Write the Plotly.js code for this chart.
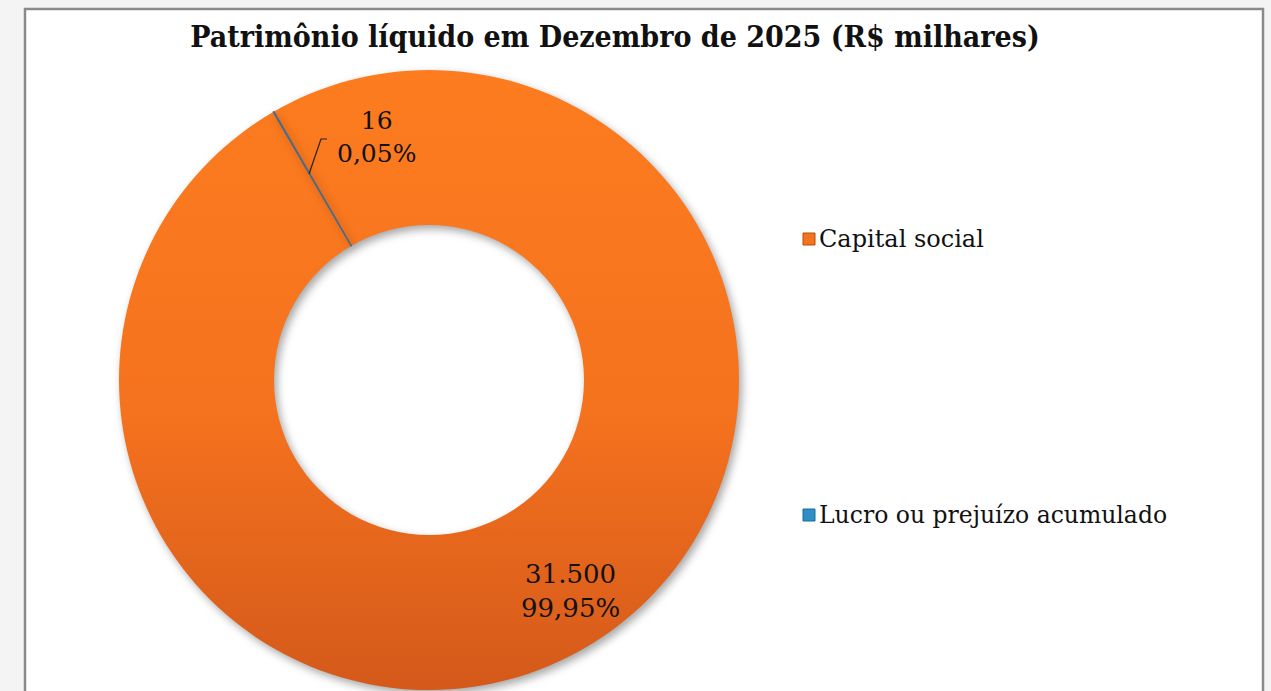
<!DOCTYPE html>
<html>
<head>
<meta charset="utf-8">
<script src="https://cdn.plot.ly/plotly-3.0.1.min.js"></script>
<style>
  html, body { margin: 0; padding: 0; background: #f4f4f4; }
  #chart { width: 1271px; height: 691px; }
  .pielayer .slice path { filter: drop-shadow(3px 4px 4px rgba(0,0,0,0.35)); }
</style>
</head>
<body>
<div id="chart"></div>
<script>
// ---- data ----
const labels = ['Capital social', 'Lucro ou prejuízo acumulado'];
const values = [31500, 16];
const sliceColors = ['#F5721E', '#2E8FC7'];
const titleText = 'Patrimônio líquido em Dezembro de 2025 (R$ milhares)';

// ---- formatting (pt-BR) ----
const total = values.reduce((a, b) => a + b, 0);
function fmtNum(v) { return String(v).replace(/\B(?=(\d{3})+(?!\d))/g, '.'); }
function fmtPct(v) { return (v / total * 100).toFixed(2).replace('.', ',') + '%'; }
const sliceText = values.map(v => fmtNum(v) + '<br>' + fmtPct(v));

const W = 1271, H = 691;
const px = x => x / W;
const py = y => 1 - y / H;
const serif = 'DejaVu Serif, Liberation Serif, serif';

const trace = {
  type: 'pie',
  labels: labels,
  values: values,
  textinfo: 'none',
  hole: 0.5,
  sort: false,
  direction: 'clockwise',
  rotation: -30,
  marker: { colors: sliceColors, line: { color: ['rgba(0,0,0,0)', '#4A6A86'], width: [0, 1.2] } },
  domain: { x: [px(118), px(740)], y: [py(690), py(70)] },
  showlegend: false,
  hoverinfo: 'label+value+percent'
};

const shapes = [
  { type: 'rect', xref: 'paper', yref: 'paper', x0: px(25), x1: px(1263), y0: -0.02, y1: py(9),
    fillcolor: '#ffffff', line: { color: '#8a8a8a', width: 2.5 }, layer: 'below' },
  { type: 'path', xref: 'paper', yref: 'paper',
    path: 'M ' + px(309) + ',' + py(174) + ' L ' + px(321) + ',' + py(139) + ' L ' + px(327) + ',' + py(139),
    line: { color: '#222', width: 1.2 } },
  { type: 'rect', xref: 'paper', yref: 'paper', x0: px(803), x1: px(815), y0: py(245), y1: py(233),
    fillcolor: sliceColors[0], line: { color: '#b34e10', width: 1 } },
  { type: 'rect', xref: 'paper', yref: 'paper', x0: px(803), x1: px(815), y0: py(521), y1: py(509),
    fillcolor: sliceColors[1], line: { color: '#1f6a96', width: 1 } }
];

const annotations = [
  { xref: 'paper', yref: 'paper', x: px(570), y: py(591), xanchor: 'center', yanchor: 'middle',
    text: sliceText[0], showarrow: false, font: { family: serif, size: 26, color: '#111' } },
  { xref: 'paper', yref: 'paper', x: px(376), y: py(137), xanchor: 'center', yanchor: 'middle',
    text: sliceText[1], showarrow: false, font: { family: serif, size: 25, color: '#111' } },
  { xref: 'paper', yref: 'paper', x: px(817), y: py(239), xanchor: 'left', yanchor: 'middle',
    text: labels[0], showarrow: false, font: { family: serif, size: 24, color: '#111' } },
  { xref: 'paper', yref: 'paper', x: px(817), y: py(515), xanchor: 'left', yanchor: 'middle',
    text: labels[1], showarrow: false, font: { family: serif, size: 23.5, color: '#111' } }
];

const layout = {
  width: W, height: H,
  margin: { l: 0, r: 0, t: 0, b: 0 },
  paper_bgcolor: '#f4f4f4',
  title: { text: '<b>' + titleText + '</b>', xref: 'container', yref: 'container',
           x: px(615), y: py(36), xanchor: 'center', yanchor: 'middle',
           font: { family: 'DejaVu Serif Condensed, DejaVu Serif, serif', size: 30, color: '#111' } },
  shapes: shapes,
  annotations: annotations
};

Plotly.newPlot('chart', [trace], layout, { displayModeBar: false, staticPlot: true }).then(gd => {
  // vertical orange gradient on the main slice (styling only)
  const svg = gd.querySelector('svg.main-svg');
  const NS = 'http://www.w3.org/2000/svg';
  let defs = svg.querySelector('defs');
  if (!defs) { defs = document.createElementNS(NS, 'defs'); svg.insertBefore(defs, svg.firstChild); }
  const g = document.createElementNS(NS, 'linearGradient');
  g.setAttribute('id', 'orangeGrad');
  g.setAttribute('x1', '0'); g.setAttribute('y1', '0'); g.setAttribute('x2', '0'); g.setAttribute('y2', '1');
  [['0', '#FD7C1F'], ['0.55', '#F5721E'], ['1', '#D4591A']].forEach(([o, c]) => {
    const s = document.createElementNS(NS, 'stop');
    s.setAttribute('offset', o); s.setAttribute('stop-color', c); g.appendChild(s);
  });
  defs.appendChild(g);
  const paths = gd.querySelectorAll('.pielayer .slice path.surface');
  if (paths[0]) paths[0].style.fill = 'url(#orangeGrad)';
});
</script>
</body>
</html>
